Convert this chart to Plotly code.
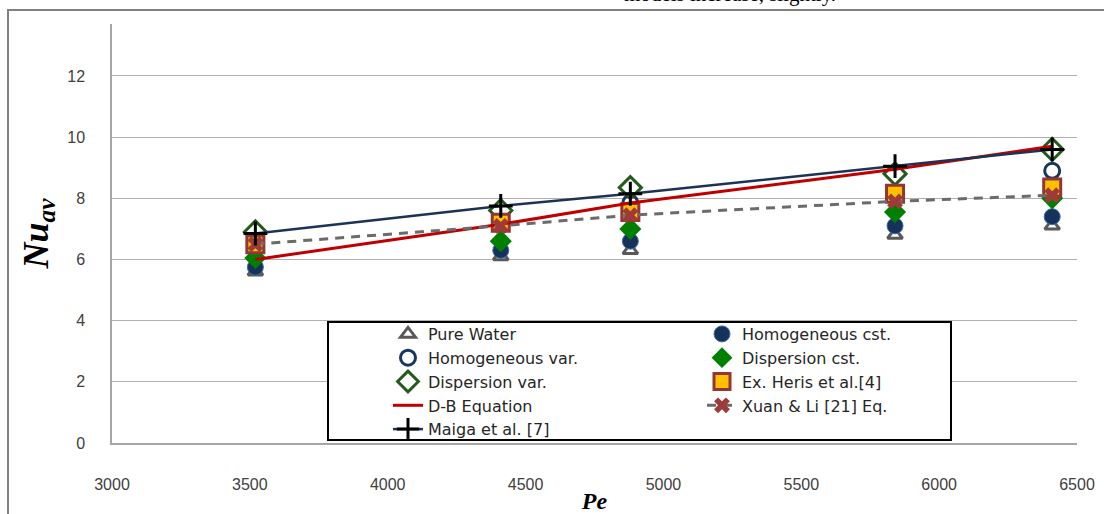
import plotly.graph_objects as go

# Peclet numbers of the five test points
pe = [3520, 4410, 4880, 5840, 6410]

# Average Nusselt number per model / data set
pure_water = [5.6, 6.1, 6.3, 6.8, 7.1]
homog_cst = [5.75, 6.3, 6.6, 7.1, 7.4]
homog_var = [6.5, 7.2, 7.85, 8.2, 8.9]
disp_cst = [6.05, 6.6, 7.0, 7.55, 8.0]
disp_var = [6.9, 7.6, 8.35, 8.8, 9.6]
heris_exp = [6.5, 7.2, 7.55, 8.15, 8.35]
xuan_li = [6.5, 7.1, 7.45, 7.9, 8.1]
db_equation = [6.0, 7.15, 7.85, 8.95, 9.7]
maiga = [6.85, 7.75, 8.15, 9.05, 9.6]

x_ticks = [3000, 3500, 4000, 4500, 5000, 5500, 6000, 6500]
y_ticks = [0, 2, 4, 6, 8, 10, 12]

W, H = 1104, 514
L, R, T, B = 112, 27, 24, 71
PW, PH = W - L - R, H - T - B


def px_x(px):
    return (px - L) / PW


def px_y(py):
    return (H - B - py) / PH


fig = go.Figure()

# left legend column: legend, right column: legend2
fig.add_trace(go.Scatter(
    x=pe, y=pure_water, mode="markers", name="Pure Water", legend="legend",
    marker=dict(symbol="triangle-up-open", size=13, color="#595959",
                line=dict(width=3, color="#595959"))))
fig.add_trace(go.Scatter(
    x=pe, y=homog_cst, mode="markers", name="Homogeneous cst.", legend="legend2",
    marker=dict(symbol="circle", size=16, color="#16325A",
                line=dict(width=1, color="#3B6EA5"))))
fig.add_trace(go.Scatter(
    x=pe, y=homog_var, mode="markers", name="Homogeneous var.", legend="legend",
    marker=dict(symbol="circle-open", size=15, color="#17375E",
                line=dict(width=3, color="#17375E"))))
fig.add_trace(go.Scatter(
    x=pe, y=disp_cst, mode="markers", name="Dispersion cst.", legend="legend2",
    marker=dict(symbol="diamond", size=17, color="#008000",
                line=dict(width=0))))
fig.add_trace(go.Scatter(
    x=pe, y=disp_var, mode="markers", name="Dispersion var.", legend="legend",
    marker=dict(symbol="diamond-open", size=17, color="#245A1C",
                line=dict(width=3, color="#245A1C"))))
fig.add_trace(go.Scatter(
    x=pe, y=heris_exp, mode="markers", name="Ex. Heris et al.[4]", legend="legend2",
    marker=dict(symbol="square", size=17, color="#FFC000",
                line=dict(width=3, color="#943634"))))
fig.add_trace(go.Scatter(
    x=pe, y=db_equation, mode="lines", name="D-B Equation", legend="legend",
    line=dict(color="#C00000", width=3)))
fig.add_trace(go.Scatter(
    x=pe, y=xuan_li, mode="lines+markers", name="Xuan & Li [21] Eq.", legend="legend2",
    line=dict(color="#6B6B6B", width=3, dash="9px,7px"),
    marker=dict(symbol="x", size=14, color="#9E3B38", line=dict(width=0))))
fig.add_trace(go.Scatter(
    x=pe, y=maiga, mode="lines+markers", name="Maiga et al. [7]", legend="legend",
    line=dict(color="#1C3355", width=2.5),
    marker=dict(symbol="cross-thin", size=17, color="black",
                line=dict(width=3, color="black"))))

axis_font = dict(family="Liberation Sans", size=16, color="#404040")
legend_font = dict(family="DejaVu Sans", size=16, color="#262626")

legend_common = dict(
    orientation="v", xanchor="left", yanchor="top",
    xref="paper", yref="paper",
    bgcolor="rgba(0,0,0,0)", borderwidth=0,
    font=legend_font, itemsizing="trace", traceorder="normal",
)

fig.update_layout(
    width=W, height=H,
    margin=dict(l=L, r=R, t=T, b=B, autoexpand=False),
    paper_bgcolor="white", plot_bgcolor="white",
    showlegend=True,
    legend=dict(x=px_x(388), y=px_y(317), **legend_common),
    legend2=dict(x=px_x(702), y=px_y(317), **legend_common),
    xaxis=dict(
        range=[3000, 6500], tickvals=x_ticks, ticktext=[str(v) for v in x_ticks],
        showgrid=False, zeroline=False,
        showline=True, linecolor="#A6A6A6", linewidth=1.5,
        ticks="", ticklabelstandoff=26, tickfont=axis_font,
        title=dict(text="<b><i>Pe</i></b>", standoff=4,
                   font=dict(family="Liberation Serif", size=24, color="black")),
    ),
    yaxis=dict(
        range=[0, 13.7], tickvals=y_ticks, ticktext=[str(v) for v in y_ticks],
        showgrid=True, gridcolor="#B0B0B0", gridwidth=1, zeroline=False,
        showline=True, linecolor="#A6A6A6", linewidth=1.5,
        ticks="", ticklabelstandoff=22, tickfont=axis_font,
        title=dict(text="<b><i>Nu<sub>av</sub></i></b>", standoff=8,
                   font=dict(family="Liberation Serif", size=36, color="black")),
    ),
    shapes=[
        # outer chart frame
        dict(type="rect", xref="paper", yref="paper",
             x0=px_x(8), x1=1.05, y0=-0.3, y1=px_y(10),
             line=dict(color="#808080", width=2), fillcolor="rgba(0,0,0,0)",
             layer="below"),
        # legend box
        dict(type="rect", xref="paper", yref="paper",
             x0=px_x(328), x1=px_x(951), y0=px_y(440), y1=px_y(322),
             line=dict(color="black", width=2), fillcolor="white",
             layer="above"),
    ],
    annotations=[
        dict(text="models increase, slightly.", xref="paper", yref="paper",
             x=px_x(730), y=px_y(8),
             xanchor="center", yanchor="bottom", showarrow=False,
             font=dict(family="Liberation Serif", size=21, color="black")),
    ],
)

fig.write_html("out.html")
